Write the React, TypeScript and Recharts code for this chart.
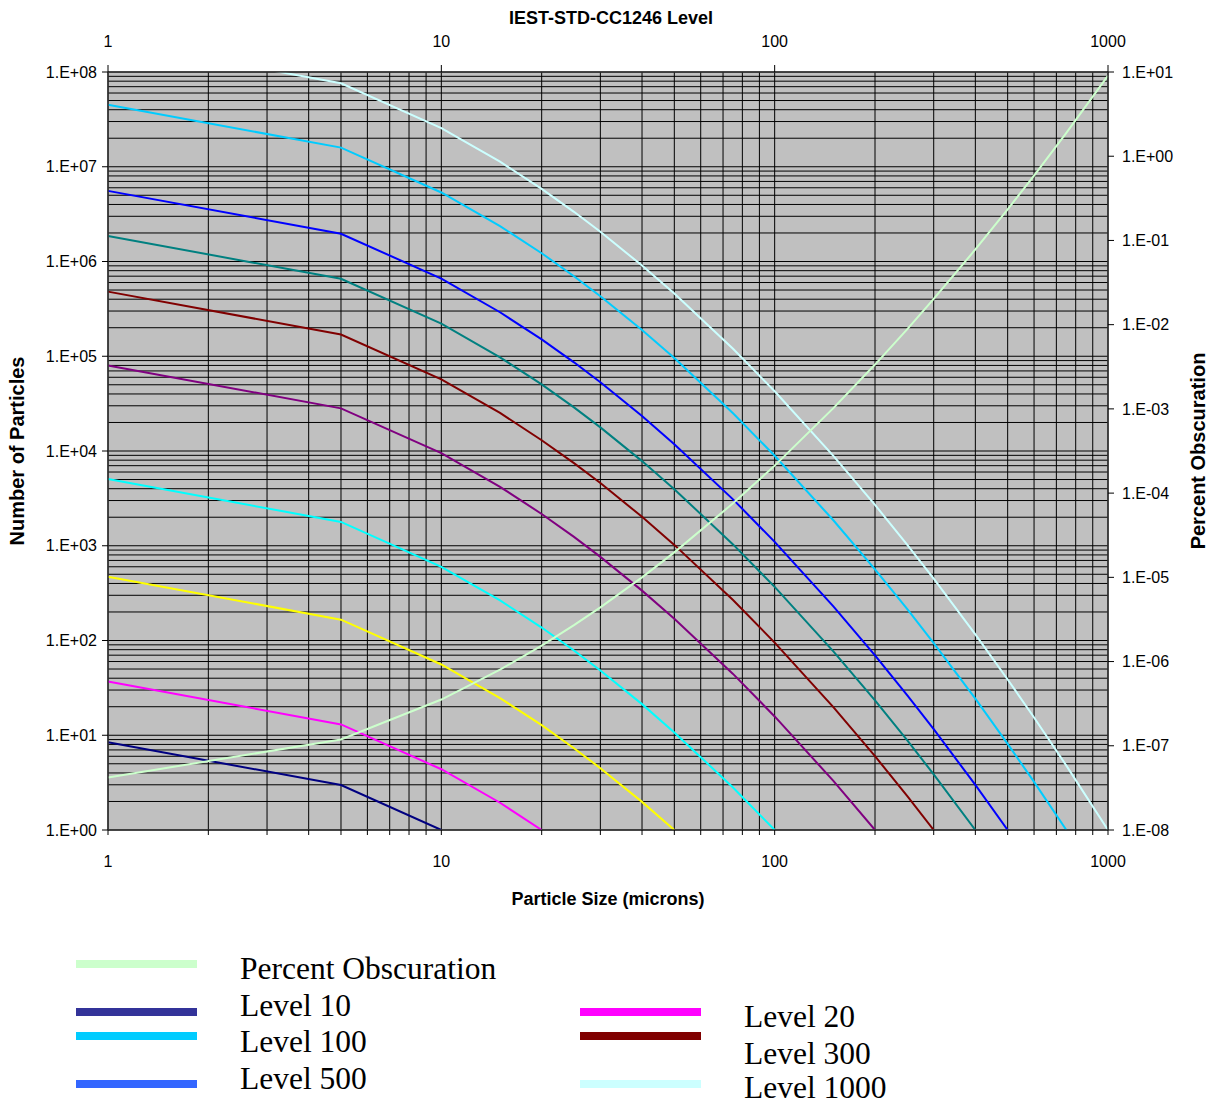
import React from "react";
import { CartesianGrid, Line, LineChart, XAxis, YAxis } from "recharts";

// particle sizes (microns) the curves were read at
const sizes = [1, 5, 10, 15, 20, 25, 30, 40, 50, 75, 100, 150, 200, 250, 300, 400, 500, 600, 750, 1000];

// particle counts, one per size, until the curve hits 1
const level10 = [8.43, 2.98, 1];
const level20 = [36.9, 13.0, 4.38, 1.94, 1];
const level50 = [471, 166, 55.8, 24.7, 12.8, 7.3, 4.49, 1.98, 1];
const level100 = [5058, 1785, 600, 265, 137, 78.4, 48.3, 21.3, 10.7, 2.81, 1];
const level200 = [80000, 28200, 9480, 4190, 2165, 1240, 763, 336, 170, 44.4, 15.8, 3.3, 1];
const level300 = [481000, 169600, 57000, 25200, 13000, 7450, 4590, 2020, 1021, 267, 95.1, 19.8, 6.01, 2.28, 1];
const level400 = [1861000, 656700, 220700, 97500, 50400, 28840, 17750, 7820, 3950, 1033, 368, 76.7, 23.3, 8.81, 3.87, 1];
const level500 = [5566000, 1963000, 659900, 291400, 150700, 86300, 53100, 23370, 11810, 3088, 1100, 229, 69.6, 26.4, 11.6, 2.99, 1];
const level750 = [45120000, 15920000, 5350000, 2363000, 1222000, 699200, 430300, 189500, 95800, 25030, 8918, 1859, 564, 214, 93.8, 24.3, 8.11, 3.22, 1];
const level1000 = [215800000, 76120000, 25590000, 11300000, 5844000, 3345000, 2059000, 906300, 458300, 119800, 42660, 8893, 2698, 1022, 449, 116, 38.8, 15.4, 4.78, 1];

// percent obscuration, right axis
const obscuration = [4.2e-8, 1.19e-7, 3.54e-7, 8.01e-7, 1.55e-6, 2.71e-6, 4.4e-6, 1.0e-5, 1.98e-5, 7.56e-5, 2.12e-4, 1.02e-3, 3.36e-3, 8.86e-3, 2.02e-2, 7.81e-2, 0.234, 0.589, 1.89, 9.06];

const sizeLabels = [1, 10, 100, 1000];
const leftTicks = [1, 10, 100, 1000, 1e4, 1e5, 1e6, 1e7, 1e8];
const rightTicks = [1e-8, 1e-7, 1e-6, 1e-5, 1e-4, 1e-3, 1e-2, 1e-1, 1, 10];

const series = [
  { key: "l10", values: level10, color: "#000080" },
  { key: "l20", values: level20, color: "#ff00ff" },
  { key: "l50", values: level50, color: "#ffff00" },
  { key: "l100", values: level100, color: "#00ffff" },
  { key: "l200", values: level200, color: "#800080" },
  { key: "l300", values: level300, color: "#800000" },
  { key: "l400", values: level400, color: "#008080" },
  { key: "l500", values: level500, color: "#0000ff" },
  { key: "l750", values: level750, color: "#00ccff" },
  { key: "l1000", values: level1000, color: "#ccffff" },
];

// the legend as it appears in the original (it does not match the line colours)
const legendItems = [
  { label: "Percent Obscuration", color: "#ccffcc", col: 0, swatchY: 964, baseY: 979 },
  { label: "Level 10", color: "#333399", col: 0, swatchY: 1012, baseY: 1016 },
  { label: "Level 100", color: "#00ccff", col: 0, swatchY: 1036, baseY: 1052 },
  { label: "Level 500", color: "#3366ff", col: 0, swatchY: 1084, baseY: 1089 },
  { label: "Level 20", color: "#ff00ff", col: 1, swatchY: 1012, baseY: 1027 },
  { label: "Level 300", color: "#800000", col: 1, swatchY: 1036, baseY: 1064 },
  { label: "Level 1000", color: "#ccffff", col: 1, swatchY: 1084, baseY: 1098 },
];

const data = sizes.map((size, i) => {
  const row: Record<string, number | undefined> = { size, obs: obscuration[i] };
  series.forEach((s) => {
    row[s.key] = s.values[i];
  });
  return row;
});

function logGrid(maxExp: number) {
  const out: number[] = [];
  for (let e = 0; e < maxExp; e++) {
    for (let k = 1; k <= 9; k++) out.push(k * Math.pow(10, e));
  }
  out.push(Math.pow(10, maxExp));
  return out;
}

const xGrid = logGrid(3);
const yGrid = logGrid(8);

const sci = (v: number) => {
  const e = Math.round(Math.log10(v));
  return `1.E${e < 0 ? "-" : "+"}${String(Math.abs(e)).padStart(2, "0")}`;
};

const FONT = "'Liberation Sans', Arial, sans-serif";
const tickStyle = { fontSize: 16, fill: "#000", fontFamily: FONT };
const border = { stroke: "#333", strokeWidth: 1.5 };

function Title(props: any) {
  const { viewBox, text, side } = props;
  if (!viewBox) return null;
  const { x, y, width, height } = viewBox;
  const flat = { fontSize: 18, fontWeight: 700, fontFamily: FONT, fill: "#000" };
  const upright = { ...flat, fontSize: 20 };
  if (side === "top") {
    return (
      <text x={x + width / 2 + 3} y={y + 24} textAnchor="middle" style={flat}>
        {text}
      </text>
    );
  }
  if (side === "bottom") {
    return (
      <text x={x + width / 2} y={y + 75} textAnchor="middle" style={flat}>
        {text}
      </text>
    );
  }
  const cx = side === "left" ? x + 17 : x + 90;
  const cy = y + height / 2;
  return (
    <text
      x={cx}
      y={cy}
      textAnchor="middle"
      dominantBaseline="central"
      transform={`rotate(-90, ${cx}, ${cy})`}
      style={upright}
    >
      {text}
    </text>
  );
}

export default function App() {
  return (
    <div style={{ position: "absolute", left: 0, top: 0, width: 1217, height: 1105, background: "#fff" }}>
      <LineChart width={1217} height={940} data={data} margin={{ top: 0, right: 0, bottom: 0, left: 0 }}>
        <CartesianGrid
          xAxisId="bottom"
          yAxisId="left"
          fill="#c0c0c0"
          stroke="#000"
          strokeWidth={1}
          horizontalValues={yGrid}
          verticalValues={xGrid}
        />
        <XAxis
          xAxisId="bottom"
          dataKey="size"
          type="number"
          scale="log"
          domain={[1, 1000]}
          ticks={xGrid}
          interval={0}
          tickFormatter={(v: number) => (sizeLabels.includes(v) ? String(v) : "")}
          tickSize={5}
          tickMargin={21}
          height={110}
          tick={tickStyle}
          axisLine={border}
          tickLine={{ stroke: "#000" }}
          label={<Title side="bottom" text="Particle Size (microns)" />}
        />
        <XAxis
          xAxisId="top"
          orientation="top"
          dataKey="size"
          type="number"
          scale="log"
          domain={[1, 1000]}
          ticks={sizeLabels}
          interval={0}
          tickSize={7}
          tickMargin={18}
          height={72}
          tick={tickStyle}
          axisLine={border}
          tickLine={{ stroke: "#000" }}
          label={<Title side="top" text="IEST-STD-CC1246 Level" />}
        />
        <YAxis
          yAxisId="left"
          type="number"
          scale="log"
          domain={[1, 1e8]}
          allowDataOverflow
          ticks={leftTicks}
          interval={0}
          tickFormatter={sci}
          tickSize={6}
          tickMargin={5}
          width={108}
          tick={tickStyle}
          axisLine={border}
          tickLine={{ stroke: "#000" }}
          label={<Title side="left" text="Number of Particles" />}
        />
        <YAxis
          yAxisId="right"
          orientation="right"
          type="number"
          scale="log"
          domain={[1e-8, 10]}
          allowDataOverflow
          ticks={rightTicks}
          interval={0}
          tickFormatter={sci}
          tickSize={6}
          tickMargin={8}
          width={109}
          tick={tickStyle}
          axisLine={border}
          tickLine={{ stroke: "#000" }}
          label={<Title side="right" text="Percent Obscuration" />}
        />
        {series.map((s) => (
          <Line
            key={s.key}
            xAxisId="bottom"
            yAxisId="left"
            dataKey={s.key}
            type="linear"
            stroke={s.color}
            strokeWidth={2}
            dot={false}
            activeDot={false}
            isAnimationActive={false}
          />
        ))}
        <Line
          xAxisId="bottom"
          yAxisId="right"
          dataKey="obs"
          type="linear"
          stroke="#ccffcc"
          strokeWidth={2}
          dot={false}
          activeDot={false}
          isAnimationActive={false}
        />
      </LineChart>
      <svg
        width={1217}
        height={1105}
        style={{ position: "absolute", left: 0, top: 0, pointerEvents: "none" }}
      >
        {legendItems.map((it) => {
          const x0 = it.col === 0 ? 76 : 580;
          const tx = it.col === 0 ? 240 : 744;
          return (
            <g key={it.label}>
              <rect x={x0} y={it.swatchY - 4} width={121} height={8} fill={it.color} />
              <text
                x={tx}
                y={it.baseY}
                style={{ fontSize: 31.5, fontFamily: "'Liberation Serif', 'Times New Roman', serif", fill: "#000" }}
              >
                {it.label}
              </text>
            </g>
          );
        })}
      </svg>
    </div>
  );
}
